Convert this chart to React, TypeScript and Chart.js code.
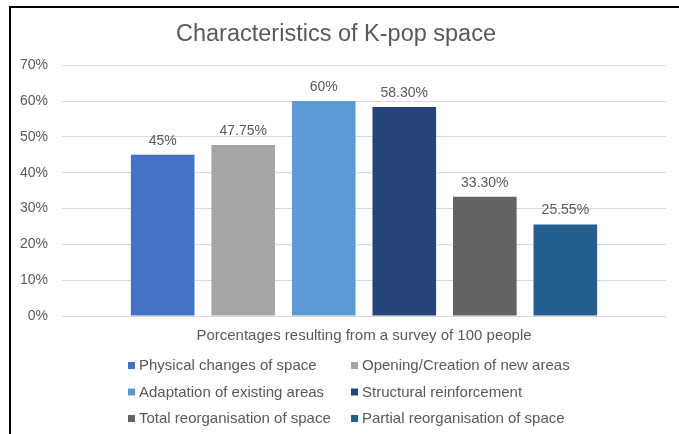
import React, { useEffect, useRef } from "react";
import { Chart, registerables } from "chart.js";

Chart.register(...registerables);

const seriesNames = [
  "Physical changes of space",
  "Opening/Creation of new areas",
  "Adaptation of existing areas",
  "Structural reinforcement",
  "Total reorganisation of space",
  "Partial reorganisation of space",
];
const seriesValues = [45, 47.75, 60, 58.3, 33.3, 25.55];
const valueLabels = ["45%", "47.75%", "60%", "58.30%", "33.30%", "25.55%"];
const seriesColors = ["#4472C4", "#A5A5A5", "#5B9BD5", "#264478", "#636363", "#255E91"];
const categories = [""];
const yTicks = [0, 10, 20, 30, 40, 50, 60, 70];

const FONT = "'Liberation Sans', Arial, sans-serif";
const TEXT = "#595959";

const dataLabelPlugin = {
  id: "dataLabels",
  afterDatasetsDraw(chart: any) {
    const ctx = chart.ctx;
    ctx.save();
    ctx.font = `14px ${FONT}`;
    ctx.fillStyle = TEXT;
    ctx.textAlign = "center";
    ctx.textBaseline = "bottom";
    chart.data.datasets.forEach((ds: any, i: number) => {
      const meta = chart.getDatasetMeta(i);
      meta.data.forEach((el: any) => {
        ctx.fillText(valueLabels[i], el.x, el.y - 7);
      });
    });
    ctx.restore();
  },
};

const gridLegendPlugin = {
  id: "gridLegend",
  afterDraw(chart: any) {
    const ctx = chart.ctx;
    ctx.save();
    ctx.font = `15px ${FONT}`;
    ctx.textBaseline = "middle";
    ctx.textAlign = "left";
    const colX = [128, 351];
    const rowY = [366, 392.5, 419];
    chart.data.datasets.forEach((ds: any, i: number) => {
      const x = colX[i % 2];
      const y = rowY[Math.floor(i / 2)];
      ctx.fillStyle = ds.backgroundColor;
      ctx.fillRect(x, y - 4, 7, 7);
      ctx.fillStyle = TEXT;
      ctx.fillText(ds.label, x + 11, y);
    });
    ctx.restore();
  },
};

export default function App() {
  const ref = useRef<HTMLCanvasElement>(null);
  useEffect(() => {
    if (!ref.current) return;
    const chart = new Chart(ref.current, {
      type: "bar",
      data: {
        labels: categories,
        datasets: seriesNames.map((name, i) => ({
          label: name,
          data: [seriesValues[i]],
          backgroundColor: seriesColors[i],
          borderWidth: 0,
          categoryPercentage: 0.8,
          barPercentage: 0.79,
        })),
      },
      options: {
        animation: false,
        responsive: false,
        maintainAspectRatio: false,
        layout: { padding: { left: 6, right: 13, top: 8, bottom: 89 } },
        plugins: {
          legend: { display: false },
          tooltip: { enabled: false },
          title: {
            display: true,
            text: "Characteristics of K-pop space",
            color: TEXT,
            font: { family: FONT, size: 23.5, weight: "normal" },
            padding: { top: 12, bottom: 17 },
          },
        },
        scales: {
          x: {
            grid: { display: false, drawTicks: false },
            border: { color: "#D9D9D9" },
            ticks: { display: false },
            title: {
              display: true,
              text: "Porcentages resulting from a survey of 100 people",
              color: TEXT,
              font: { family: FONT, size: 15 },
              padding: { top: 11, bottom: 0 },
            },
          },
          y: {
            min: 0,
            max: 70,
            afterBuildTicks(scale: any) {
              scale.ticks = yTicks.map((v) => ({ value: v }));
            },
            grid: { color: "#D9D9D9", drawTicks: false },
            border: { display: false },
            ticks: {
              color: TEXT,
              font: { family: FONT, size: 14 },
              padding: 14,
              callback: (v: any) => `${v}%`,
            },
          },
        },
      },
      plugins: [dataLabelPlugin, gridLegendPlugin],
    });
    return () => chart.destroy();
  }, []);

  return (
    <div style={{ position: "absolute", left: 0, top: 0, width: 679, height: 434, overflow: "hidden", background: "#fff" }}>
      <canvas ref={ref} width={679} height={434} style={{ position: "absolute", left: 0, top: 0 }} />
      <div
        style={{
          position: "absolute",
          left: 9,
          top: 6,
          width: 720,
          height: 500,
          borderLeft: "2px solid #000",
          borderTop: "2px solid #000",
          boxSizing: "border-box",
        }}
      />
    </div>
  );
}
